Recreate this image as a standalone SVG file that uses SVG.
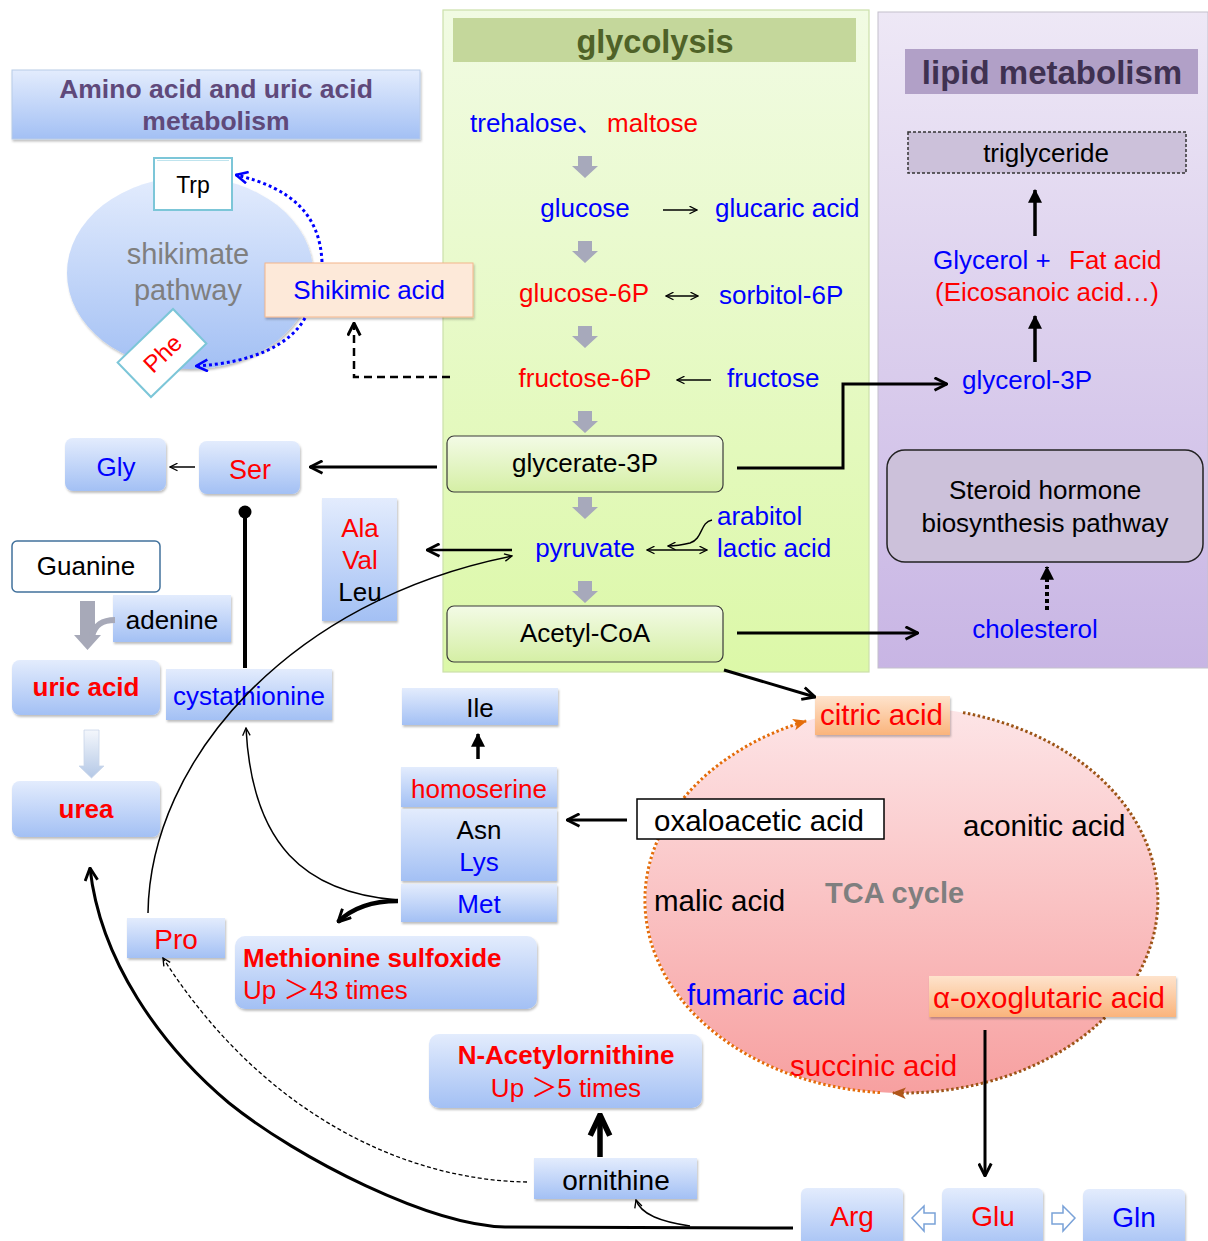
<svg xmlns="http://www.w3.org/2000/svg" width="1208" height="1241" viewBox="0 0 1208 1241">
<style>
text{font-family:"Liberation Sans","Noto Sans CJK SC",sans-serif;font-size:26px}
.b{font-weight:bold}
.m{text-anchor:middle}
.bl{fill:#0000ff}
.rd{fill:#ff0000}
.k{fill:#000}
.tca{font-size:29.5px}
.bx{fill:url(#gB);filter:url(#sh)}
.gbox{fill:url(#gG);stroke:#3a3a3a;stroke-width:1.2}
.or{fill:url(#gO);filter:url(#sh)}
.ga{fill:#a7a9bb}
.ln{fill:none;stroke:#000}
</style>
<defs>
<linearGradient id="gB" x1="0" y1="0" x2="0" y2="1"><stop offset="0" stop-color="#e3ecfd"/><stop offset="1" stop-color="#a3c0f4"/></linearGradient>
<linearGradient id="gG" x1="0" y1="0" x2="0" y2="1"><stop offset="0" stop-color="#f3fbe6"/><stop offset="1" stop-color="#d5efa5"/></linearGradient>
<linearGradient id="gO" x1="0" y1="0" x2="0" y2="1"><stop offset="0" stop-color="#fee3cc"/><stop offset="1" stop-color="#fab47c"/></linearGradient>
<linearGradient id="gGly" x1="0" y1="0" x2="0" y2="1"><stop offset="0" stop-color="#f1fbe3"/><stop offset="1" stop-color="#dcf8a8"/></linearGradient>
<linearGradient id="gLip" x1="0" y1="0" x2="0" y2="1"><stop offset="0" stop-color="#eee8f6"/><stop offset="1" stop-color="#c8b5e4"/></linearGradient>
<linearGradient id="gTCA" x1="0" y1="0" x2="0" y2="1"><stop offset="0" stop-color="#fde5e7"/><stop offset="1" stop-color="#f7a0a0"/></linearGradient>
<linearGradient id="gUA" x1="0" y1="0" x2="0" y2="1"><stop offset="0" stop-color="#f4f7fc"/><stop offset="1" stop-color="#b4c8e6"/></linearGradient>
<filter id="sh" x="-10%" y="-10%" width="125%" height="130%"><feDropShadow dx="1" dy="2" stdDeviation="1.2" flood-color="#000" flood-opacity="0.25"/></filter>
<marker id="ah" viewBox="0 0 12 12" refX="11" refY="6" markerWidth="15" markerHeight="15" markerUnits="userSpaceOnUse" orient="auto"><path d="M1,1 L11,6 L1,11" fill="none" stroke="#000" stroke-width="2.3"/></marker>
<marker id="ahs" viewBox="0 0 12 12" refX="11" refY="6" markerWidth="9" markerHeight="9" markerUnits="userSpaceOnUse" orient="auto"><path d="M1,1 L11,6 L1,11" fill="none" stroke="#000" stroke-width="1.8"/></marker>
<marker id="ahs0" viewBox="0 0 12 12" refX="1" refY="6" markerWidth="9" markerHeight="9" markerUnits="userSpaceOnUse" orient="auto"><path d="M11,1 L1,6 L11,11" fill="none" stroke="#000" stroke-width="1.8"/></marker>
<marker id="ahL" viewBox="0 0 12 12" refX="11" refY="6" markerWidth="26" markerHeight="26" markerUnits="userSpaceOnUse" orient="auto"><path d="M1.5,1.5 L11,6 L1.5,10.5" fill="none" stroke="#000" stroke-width="2.6"/></marker>
<marker id="tri" viewBox="0 0 12 12" refX="11" refY="6" markerWidth="14" markerHeight="14" markerUnits="userSpaceOnUse" orient="auto"><path d="M0,0 L12,6 L0,12 z" fill="#000"/></marker>
<marker id="ahB" viewBox="0 0 12 12" refX="11" refY="6" markerWidth="14" markerHeight="14" markerUnits="userSpaceOnUse" orient="auto"><path d="M1,1 L11,6 L1,11" fill="none" stroke="#0000ff" stroke-width="2.2"/></marker>
<marker id="ahO" viewBox="0 0 12 12" refX="11" refY="6" markerWidth="14" markerHeight="14" markerUnits="userSpaceOnUse" orient="auto"><path d="M0,1 L12,6 L0,11 L3,6 z" fill="#e46c0a"/></marker>
<marker id="ahBr" viewBox="0 0 12 12" refX="11" refY="6" markerWidth="14" markerHeight="14" markerUnits="userSpaceOnUse" orient="auto"><path d="M0,1 L12,6 L0,11 L3,6 z" fill="#b0561a"/></marker>
</defs>

<rect width="1208" height="1241" fill="#ffffff"/>

<!-- panels -->
<g id="glycolysis-panel">
<rect x="443" y="10" width="426" height="662" fill="url(#gGly)" stroke="#cbe0aa" stroke-width="1.2"/>
<rect x="453" y="18" width="403" height="44" fill="#c4d79b"/>
<text class="b m" x="655" y="53" fill="#4f6228" style="font-size:32.5px">glycolysis</text>
</g>
<g id="lipid-panel">
<rect x="878" y="12" width="330" height="656" fill="url(#gLip)" stroke="#c4c0cc" stroke-width="1"/>
<rect x="905" y="49" width="293" height="45" fill="#b1a0c7"/>
<text class="b m" x="1052" y="84" fill="#3f3151" style="font-size:33px">lipid metabolism</text>
</g>
<g id="amino-title">
<rect x="12" y="70" width="408" height="69" fill="url(#gB)" stroke="#b8cbe8" stroke-width="1" filter="url(#sh)"/>
<text class="b m" x="216" y="98" fill="#5f497a" style="font-size:26.5px">Amino acid and uric acid</text>
<text class="b m" x="216" y="130" fill="#5f497a" style="font-size:26.5px">metabolism</text>
</g>
<g id="tca-cycle">
<ellipse cx="902" cy="900" rx="256" ry="193" fill="url(#gTCA)"/>
<path d="M963,712.6 A256,193 0 0 1 893,1092.9" fill="none" stroke="#9c5416" stroke-width="3" stroke-dasharray="2.5 2.5" marker-end="url(#ahBr)"/>
<path d="M880,1092.6 A256,193 0 0 1 806,721" fill="none" stroke="#e46c0a" stroke-width="3" stroke-dasharray="2.5 2.5" marker-end="url(#ahO)"/>
<text class="b" x="825" y="903" fill="#7f7f7f" style="font-size:29px">TCA cycle</text>
</g>
<g id="shikimate-pathway">
<ellipse cx="190" cy="273" rx="123" ry="96" fill="url(#gB)" filter="url(#sh)"/>
<text class="m" x="188" y="264" fill="#7f7f7f" style="font-size:29px">shikimate</text>
<text class="m" x="188" y="300" fill="#7f7f7f" style="font-size:29px">pathway</text>
</g>

<!-- glycolysis nodes -->
<g id="trehalose-maltose"><text x="470" y="132"><tspan class="bl">trehalose、</tspan><tspan class="rd" x="607">maltose</tspan></text></g>
<g id="glucose"><text class="m bl" x="585" y="217">glucose</text></g>
<g id="glucaric-acid"><text class="bl" x="715" y="217">glucaric acid</text></g>
<g id="glucose-6p"><text class="m rd" x="584" y="302">glucose-6P</text></g>
<g id="sorbitol-6p"><text class="bl" x="719" y="304">sorbitol-6P</text></g>
<g id="fructose-6p"><text class="m rd" x="585" y="387">fructose-6P</text></g>
<g id="fructose"><text class="bl" x="727" y="387">fructose</text></g>
<g id="glycerate-3p"><rect class="gbox" x="447" y="436" width="276" height="56" rx="7"/><text class="m k" x="585" y="472">glycerate-3P</text></g>
<g id="pyruvate"><text class="m bl" x="585" y="557">pyruvate</text></g>
<g id="arabitol"><text class="bl" x="717" y="525">arabitol</text></g>
<g id="lactic-acid"><text class="bl" x="717" y="557">lactic acid</text></g>
<g id="acetyl-coa"><rect class="gbox" x="447" y="606" width="276" height="56" rx="7"/><text class="m k" x="585" y="642">Acetyl-CoA</text></g>

<!-- lipid nodes -->
<g id="triglyceride"><rect x="908" y="132" width="278" height="41" fill="#ccc1da" stroke="#333" stroke-width="1.5" stroke-dasharray="3 2"/><text class="m k" x="1046" y="162">triglyceride</text></g>
<g id="glycerol-fat-acid"><text class="bl" x="933" y="269">Glycerol +</text><text class="rd" x="1069" y="269">Fat acid</text><text class="m rd" x="1047" y="301">(Eicosanoic acid…)</text></g>
<g id="glycerol-3p"><text class="bl" x="962" y="389">glycerol-3P</text></g>
<g id="steroid"><rect x="887" y="450" width="316" height="112" rx="18" fill="#ccc1da" stroke="#222" stroke-width="1.5"/><text class="m k" x="1045" y="499">Steroid hormone</text><text class="m k" x="1045" y="532">biosynthesis pathway</text></g>
<g id="cholesterol"><text class="m bl" x="1035" y="638">cholesterol</text></g>

<!-- shikimate nodes -->
<g id="trp"><rect x="154" y="158" width="78" height="52" fill="#ffffff" stroke="#7cc6d8" stroke-width="2"/><line x1="157" y1="160.5" x2="229" y2="160.5" stroke="#bfe4ee" stroke-width="1"/><text class="m k" x="193" y="193" style="font-size:23px">Trp</text></g>
<g id="phe" transform="translate(162,353) rotate(-44)"><rect x="-38.5" y="-24" width="77" height="48" fill="#ffffff" stroke="#7cc6d8" stroke-width="2"/><text class="m rd" x="0" y="9" style="font-size:24px">Phe</text></g>
<g id="shikimic-acid"><rect x="265" y="263" width="208" height="54" fill="#fde9d9" stroke="#f4b68c" stroke-width="1" filter="url(#sh)"/><text class="m bl" x="369" y="299">Shikimic acid</text></g>

<!-- amino acid nodes -->
<g id="gly"><rect class="bx" x="65" y="438" width="101" height="53" rx="8"/><text class="m bl" x="116" y="476">Gly</text></g>
<g id="ser"><rect class="bx" x="199" y="441" width="101" height="53" rx="8"/><text class="m rd" x="250" y="479" style="font-size:27px">Ser</text></g>
<g id="ala-val-leu"><rect class="bx" x="322" y="498" width="75" height="123"/><text class="m rd" x="360" y="537">Ala</text><text class="m rd" x="360" y="569">Val</text><text class="m k" x="360" y="601">Leu</text></g>
<g id="guanine"><rect x="12" y="541" width="148" height="51" rx="5" fill="#ffffff" stroke="#41719c" stroke-width="1.5"/><text class="m k" x="86" y="575">Guanine</text></g>
<g id="adenine"><rect class="bx" x="113" y="595" width="118" height="47"/><text class="m k" x="172" y="629">adenine</text></g>
<g id="uric-acid"><rect class="bx" x="12" y="660" width="148" height="55" rx="8"/><text class="m b rd" x="86" y="696">uric acid</text></g>
<g id="cystathionine"><rect class="bx" x="166" y="669" width="166" height="51"/><text class="m bl" x="249" y="705">cystathionine</text></g>
<g id="urea"><rect class="bx" x="12" y="781" width="148" height="56" rx="8"/><text class="m b rd" x="86" y="818">urea</text></g>
<g id="ile"><rect class="bx" x="402" y="688" width="156" height="37"/><text class="m k" x="480" y="717">Ile</text></g>
<g id="homoserine"><rect class="bx" x="401" y="767" width="156" height="40"/><text class="m rd" x="479" y="798">homoserine</text></g>
<g id="asn-lys"><rect class="bx" x="401" y="809" width="156" height="72"/><text class="m k" x="479" y="839">Asn</text><text class="m bl" x="479" y="871">Lys</text></g>
<g id="met"><rect class="bx" x="401" y="884" width="156" height="38"/><text class="m bl" x="479" y="913">Met</text></g>
<g id="pro"><rect class="bx" x="127" y="918" width="98" height="40"/><text class="m rd" x="176" y="949" style="font-size:28px">Pro</text></g>
<g id="methionine-sulfoxide"><rect class="bx" x="235" y="936" width="302" height="73" rx="10"/><text class="b rd" x="243" y="967">Methionine sulfoxide</text><text class="rd" x="243" y="999">Up ＞43 times</text></g>
<g id="n-acetylornithine"><rect class="bx" x="429" y="1034" width="273" height="74" rx="10"/><text class="m b rd" x="566" y="1064">N-Acetylornithine</text><text class="m rd" x="566" y="1097">Up ＞5 times</text></g>
<g id="ornithine"><rect class="bx" x="534" y="1158" width="163" height="41"/><text class="m k" x="616" y="1190" style="font-size:28px">ornithine</text></g>
<g id="arg"><rect class="bx" x="801" y="1188" width="102" height="62" rx="6"/><text class="m rd" x="852" y="1226" style="font-size:28px">Arg</text></g>
<g id="glu"><rect class="bx" x="942" y="1188" width="101" height="62" rx="6"/><text class="m rd" x="993" y="1226" style="font-size:28px">Glu</text></g>
<g id="gln"><rect class="bx" x="1083" y="1189" width="102" height="62" rx="6"/><text class="m bl" x="1134" y="1227" style="font-size:28px">Gln</text></g>

<!-- TCA nodes -->
<g id="citric-acid"><rect class="or" x="815" y="696" width="135" height="39"/><text class="rd tca" x="820" y="725">citric acid</text></g>
<g id="aconitic-acid"><text class="k tca" x="963" y="836">aconitic acid</text></g>
<g id="oxaloacetic-acid"><rect x="637" y="799" width="247" height="40" fill="#ffffff" stroke="#000" stroke-width="1.5"/><text class="k tca" x="654" y="831">oxaloacetic acid</text></g>
<g id="malic-acid"><text class="k tca" x="654" y="911">malic acid</text></g>
<g id="fumaric-acid"><text class="bl tca" x="687" y="1005">fumaric acid</text></g>
<g id="alpha-oxoglutaric-acid"><rect class="or" x="929" y="976" width="247" height="41"/><text class="rd tca" x="933" y="1008">α-oxoglutaric acid</text></g>
<g id="succinic-acid"><text class="rd tca" x="790" y="1076">succinic acid</text></g>

<!-- connectors -->
<g id="connectors">
<path class="ga" d="M578,156 h14 v10 h6 l-13,12 l-13,-12 h6 z"/>
<path class="ga" d="M578,241 h14 v10 h6 l-13,12 l-13,-12 h6 z"/>
<path class="ga" d="M578,326 h14 v10 h6 l-13,12 l-13,-12 h6 z"/>
<path class="ga" d="M578,411 h14 v10 h6 l-13,12 l-13,-12 h6 z"/>
<path class="ga" d="M578,497 h14 v10 h6 l-13,12 l-13,-12 h6 z"/>
<path class="ga" d="M578,581 h14 v10 h6 l-13,12 l-13,-12 h6 z"/>
<line class="ln" x1="663" y1="210" x2="697" y2="210" stroke-width="1.5" marker-end="url(#ahs)"/>
<line class="ln" x1="666" y1="296" x2="698" y2="296" stroke-width="1.5" marker-start="url(#ahs0)" marker-end="url(#ahs)"/>
<line class="ln" x1="711" y1="380" x2="677" y2="380" stroke-width="1.5" marker-end="url(#ahs)"/>
<line class="ln" x1="647" y1="550" x2="707" y2="550" stroke-width="1.5" marker-start="url(#ahs0)" marker-end="url(#ahs)"/>
<path class="ln" d="M712,520 C700,522 703,539 690,543 C682,545 676,546 668,546" stroke-width="1.5" marker-end="url(#ahs)"/>
<path class="ln" d="M737,468 H843 V384 H947" stroke-width="3" marker-end="url(#ah)"/>
<line class="ln" x1="737" y1="633" x2="918" y2="633" stroke-width="3" marker-end="url(#ah)"/>
<line class="ln" x1="724" y1="670" x2="815" y2="697" stroke-width="3" marker-end="url(#ah)"/>
<line class="ln" x1="437" y1="467" x2="310" y2="467" stroke-width="3" marker-end="url(#ah)"/>
<line class="ln" x1="512" y1="550" x2="427" y2="550" stroke-width="2.5" marker-end="url(#ah)"/>
<line class="ln" x1="195" y1="467" x2="170" y2="467" stroke-width="1.5" marker-end="url(#ahs)"/>
<line class="ln" x1="1035" y1="236" x2="1035" y2="190" stroke-width="3.5" marker-end="url(#tri)"/>
<line class="ln" x1="1035" y1="362" x2="1035" y2="316" stroke-width="3.5" marker-end="url(#tri)"/>
<line class="ln" x1="1047" y1="610" x2="1047" y2="567" stroke-width="4" stroke-dasharray="4 3" marker-end="url(#tri)"/>
<path d="M322,262 C320,215 292,188 236,175" fill="none" stroke="#0000ff" stroke-width="3" stroke-dasharray="3 3" marker-end="url(#ahB)"/>
<path d="M305,318 C290,345 252,363 196,366" fill="none" stroke="#0000ff" stroke-width="3" stroke-dasharray="3 3" marker-end="url(#ahB)"/>
<path class="ln" d="M450,377 H354 V323" stroke-width="2.5" stroke-dasharray="8 5" marker-end="url(#ah)"/>
<line class="ln" x1="245" y1="512" x2="245" y2="668" stroke-width="4"/>
<circle cx="245" cy="512" r="6.5" fill="#000"/>
<path d="M80,601 h15 v34 h6 l-13.5,15 l-13.5,-15 h6 z" fill="#a7a9b8"/>
<path d="M115,620 C102,620 95,625 92,636" fill="none" stroke="#a7a9b8" stroke-width="6"/>
<path d="M84,730 h15 v36 h5 l-12.5,12 l-12.5,-12 h5 z" fill="url(#gUA)" stroke="#c9d6ea" stroke-width="0.8"/>
<path class="ln" d="M148,913 C150,760 290,600 512,556" stroke-width="1.5" marker-end="url(#ahs)"/>
<path class="ln" d="M398,900 C305,893 252,845 246,728" stroke-width="1.5" marker-end="url(#ahs)"/>
<path class="ln" d="M398,901 C372,901 352,908 338,922" stroke-width="4.5" marker-end="url(#ah)"/>
<line class="ln" x1="478" y1="759" x2="478" y2="734" stroke-width="3.5" marker-end="url(#tri)"/>
<line class="ln" x1="627" y1="820" x2="567" y2="820" stroke-width="3" marker-end="url(#ah)"/>
<path class="ln" d="M527,1182 C400,1180 260,1110 163,958" stroke-width="1.3" stroke-dasharray="4 2.5" marker-end="url(#ahs)"/>
<path class="ln" d="M793,1228 L505,1227 C430,1225 300,1160 229,1103 C160,1045 100,960 90,868" stroke-width="3" marker-end="url(#ah)"/>
<path class="ln" d="M690,1226 C662,1222 641,1215 636,1200" stroke-width="1.5" marker-end="url(#ahs)"/>
<line class="ln" x1="600" y1="1157" x2="600" y2="1115" stroke-width="5.5" marker-end="url(#ahL)"/>
<line class="ln" x1="985" y1="1030" x2="985" y2="1176" stroke-width="3" marker-end="url(#ah)"/>
<path d="M912,1218 L924,1206 v7 h11 v11 h-11 v7 z" fill="#ffffff" stroke="#7aa2d8" stroke-width="1.5"/>
<path d="M1075,1218 L1063,1206 v7 h-11 v11 h11 v7 z" fill="#ffffff" stroke="#7aa2d8" stroke-width="1.5"/>
</g>
</svg>
